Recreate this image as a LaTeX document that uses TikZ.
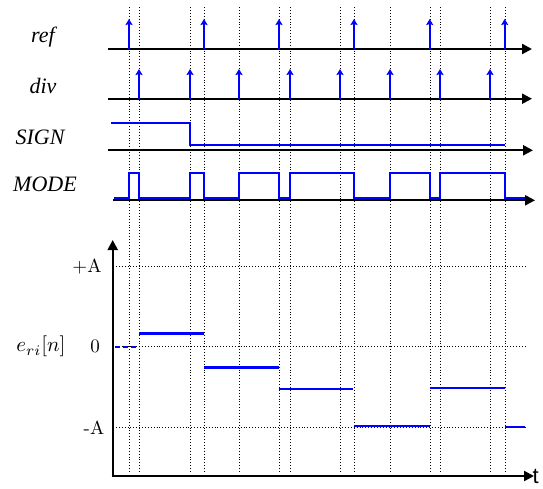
\documentclass[tikz,border=0pt]{standalone}
\usepackage{fontspec}
\newfontfamily\lblfont{Liberation Serif}
\newfontfamily\tfont{Liberation Sans}
\usetikzlibrary{arrows.meta}
\begin{document}
\begin{tikzpicture}[x=1pt,y=-1pt,
  axis/.style={line width=2.2pt,-{Triangle[length=10pt,width=10pt]}},
  pulse/.style={blue,line width=2.4pt,-{Stealth[length=6pt,width=7pt,inset=1pt]}},
  wave/.style={blue,line width=2.4pt},
  grid/.style={black,line width=0.9pt,dotted},
  siglbl/.style={font=\lblfont\itshape\fontsize{22}{26}\selectfont},
  vallbl/.style={font=\fontsize{10}{12}\selectfont,transform shape,scale=1.9}]
\useasboundingbox (0,0) rectangle (543,488);
% vertical grid lines
\foreach \x in {129,139,190,204,239,279,290,340,354,390,430,440,490,505}
  \draw[grid] (\x,7) -- (\x,473);
% horizontal grid lines
\foreach \y in {266.7,346.7,427.3}
  \draw[grid] (113,\y) -- (525,\y);
% labels
\node[siglbl] (lref) at (43,37) {ref};
\node[siglbl] (ldiv) at (43,86) {div};
\node[siglbl] (lsign) at (40,137) {SIGN};
\node[siglbl] (lmode) at (45,184) {MODE};
% axes
\coordinate (refs) at (108,49); \coordinate (refe) at (532,49);
\coordinate (divs) at (108,98.7); \coordinate (dive) at (532,98.7);
\coordinate (sgs) at (108,150.3); \coordinate (sge) at (533,150.3);
\coordinate (mds) at (113,200.3); \coordinate (mde) at (535,200.3);
\draw[axis] (refs) -- (refe);
\draw[axis] (divs) -- (dive);
\draw[axis] (sgs) -- (sge);
\draw[axis] (mds) -- (mde);
% ref pulses
\foreach \x in {129,204,279,354,429.7,504.7}
  \draw[pulse] (\x,49) -- (\x,19);
% div pulses
\foreach \x in {139,190,239,290,340,390,440,490}
  \draw[pulse] (\x,98.7) -- (\x,69);
% SIGN
\draw[wave] (111,122.7) -- (190,122.7) -- (190,144.7) -- (504.7,144.7);
% MODE
\draw[wave] (114,197.7) -- (129,197.7) -- (129,173) -- (139,173) -- (139,197.7)
  -- (190,197.7) -- (190,173) -- (204,173) -- (204,197.7)
  -- (239,197.7) -- (239,173) -- (279,173) -- (279,197.7)
  -- (290,197.7) -- (290,173) -- (354,173) -- (354,197.7)
  -- (390,197.7) -- (390,173) -- (430,173) -- (430,197.7)
  -- (440,197.7) -- (440,173) -- (505,173) -- (505,197.7) -- (525,197.7);
% lower plot axes
\coordinate (org) at (112.7,476);
\coordinate (ytip) at (112.7,240);
\coordinate (xtip) at (534,476);
\draw[axis] (org) -- (ytip);
\draw[axis] ([xshift=-1.1pt]org) -- (xtip);
\node[font=\tfont\fontsize{22}{26}\selectfont,anchor=base west,inner sep=0pt] (tl) at (532.5,483) {t};
% value labels
\node[vallbl] (lpa) at (87,266.7) {+A};
\node[vallbl] (lzero) at (95,346.7) {0};
\node[vallbl] (lma) at (94,427.3) {-A};
\node[vallbl,scale=1.1] (leri) at (41,346.7) {$e_{ri}[n]$};
% error levels
\draw[wave,dash pattern=on 5pt off 3pt,line width=1.8pt] (115,346.7) -- (139,346.7);
\draw[wave] (139,333.3) -- (204,333.3);
\draw[wave] (204,367.3) -- (279,367.3);
\draw[wave] (279,389) -- (353,389);
\draw[wave] (354,426) -- (430,426);
\draw[wave] (430,387.7) -- (505,387.7);
\draw[wave] (505,427) -- (525,427);
\end{tikzpicture}
\end{document}
